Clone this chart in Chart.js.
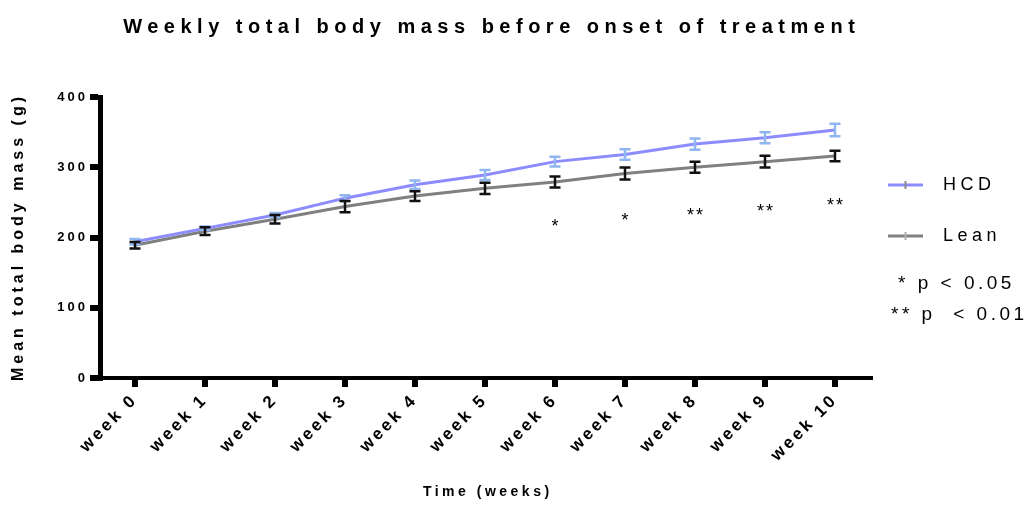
<!DOCTYPE html>
<html>
<head>
<meta charset="utf-8">
<script src="https://cdn.jsdelivr.net/npm/chart.js@4.4.1/dist/chart.umd.min.js"></script>
<style>
  html, body { margin: 0; padding: 0; background: #fff; }
</style>
</head>
<body>
<canvas id="chart" width="1031" height="530"></canvas>
<script>
// data
const weekLabels = ["week 0", "week 1", "week 2", "week 3", "week 4", "week 5",
                    "week 6", "week 7", "week 8", "week 9", "week 10"];
const hcdMean = [194, 213, 232, 256, 275, 289, 308, 318, 333, 342, 353];
const hcdErr = [4, 2.5, 3, 4, 6, 7, 7, 7.5, 8, 8, 9];
const leanMean = [189, 209, 226, 244, 259, 270, 279, 291, 300, 308, 316];
const leanErr = [4.5, 5.5, 6, 8, 7, 8, 8, 8.5, 8, 8.5, 7.5];
const sigMarks = ["", "", "", "", "", "", "*", "*", "**", "**", "**"];
const sigLevel = [null, null, null, null, null, null, 222, 230, 237, 244, 252];
const yTicks = [0, 100, 200, 300, 400];

const FONT = "'Liberation Sans', Arial, sans-serif";
const tickSpacing = { x: 3, y: 3 };

function spacedText(ctx, text, x, y, font, spacing, align, angle) {
  ctx.save();
  ctx.font = font;
  ctx.letterSpacing = spacing + "px";
  ctx.fillStyle = "#000";
  ctx.textAlign = "left";
  ctx.textBaseline = "middle";
  const w = ctx.measureText(text).width - spacing;
  ctx.translate(x, y);
  if (angle) ctx.rotate(angle);
  ctx.fillText(text, align === "center" ? -w / 2 : 0, 0);
  ctx.restore();
}

const errorBars = {
  id: "errorBars",
  afterLayout(chart) {
    // spaced-out tick labels, like the original figure
    Object.values(chart.scales).forEach((s) => {
      if (s._spaced) return;
      const orig = s.drawLabels;
      s.drawLabels = function (area) {
        this.ctx.save();
        this.ctx.letterSpacing = (tickSpacing[this.id] || 0) + "px";
        orig.call(this, area);
        this.ctx.restore();
      };
      s._spaced = true;
    });
  },
  afterDatasetsDraw(chart) {
    const ctx = chart.ctx;
    const xs = chart.scales.x;
    const ys = chart.scales.y;
    chart.data.datasets.forEach((ds) => {
      ctx.save();
      ctx.strokeStyle = ds.errColor;
      ctx.lineWidth = 2.5;
      ds.data.forEach((v, i) => {
        const x = xs.getPixelForValue(i);
        const top = ys.getPixelForValue(v + ds.err[i]);
        const bot = ys.getPixelForValue(v - ds.err[i]);
        ctx.beginPath();
        ctx.moveTo(x, top); ctx.lineTo(x, bot);
        ctx.moveTo(x - 5.5, top); ctx.lineTo(x + 5.5, top);
        ctx.moveTo(x - 5.5, bot); ctx.lineTo(x + 5.5, bot);
        ctx.stroke();
      });
      ctx.restore();
    });
    sigMarks.forEach((m, i) => {
      if (!m) return;
      spacedText(ctx, m, xs.getPixelForValue(i), ys.getPixelForValue(sigLevel[i]) + 5,
        "18px " + FONT, 2, "center");
    });
  },
  afterDraw(chart) {
    const ctx = chart.ctx;
    spacedText(ctx, "Weekly total body mass before onset of treatment", 489, 27,
      "bold 20px " + FONT, 5.5, "center");
    spacedText(ctx, "Mean total body mass (g)", 19, 239,
      "bold 16px " + FONT, 4, "center", -Math.PI / 2);
    spacedText(ctx, "Time (weeks)", 486, 492, "bold 14px " + FONT, 3.5, "center");

    // legend
    chart.data.datasets.forEach((ds, k) => {
      const y = 185 + k * 51;
      ctx.save();
      ctx.strokeStyle = ds.borderColor;
      ctx.lineWidth = 3;
      ctx.beginPath();
      ctx.moveTo(888, y); ctx.lineTo(923, y);
      ctx.stroke();
      ctx.strokeStyle = ds.legendTick;
      ctx.lineWidth = 2;
      ctx.beginPath();
      ctx.moveTo(905.5, y - 4); ctx.lineTo(905.5, y + 4);
      ctx.stroke();
      ctx.restore();
      spacedText(ctx, ds.label, 943, y, "18px " + FONT, 4.5, "left");
    });
    spacedText(ctx, "* p < 0.05", 898, 284, "19px " + FONT, 3.5, "left");
    spacedText(ctx, "** p  < 0.01", 891, 315, "19px " + FONT, 3.5, "left");
  }
};

new Chart(document.getElementById("chart"), {
  type: "line",
  data: {
    labels: weekLabels,
    datasets: [
      {
        label: "HCD",
        data: hcdMean,
        err: hcdErr,
        borderColor: "#8c8cff",
        errColor: "#8fb6ee",
        legendTick: "#8a8a8a",
        borderWidth: 3,
        pointRadius: 0,
        tension: 0,
      },
      {
        label: "Lean",
        data: leanMean,
        err: leanErr,
        borderColor: "#808080",
        errColor: "#111111",
        legendTick: "#b0b0b0",
        borderWidth: 3,
        pointRadius: 0,
        tension: 0,
      }
    ]
  },
  options: {
    responsive: false,
    animation: false,
    layout: { padding: { top: 97, right: 161, bottom: 0, left: 0 } },
    plugins: {
      legend: { display: false },
      title: { display: false },
      tooltip: { enabled: false },
    },
    scales: {
      x: {
        offset: true,
        afterFit(scale) { scale.height = 152; },
        grid: { drawOnChartArea: false, tickLength: 9, lineWidth: 6, color: "#000" },
        border: { width: 4, color: "#000" },
        ticks: {
          color: "#000",
          font: { family: FONT, size: 17, weight: "bold" },
          minRotation: 45,
          maxRotation: 45,
          autoSkip: false,
          padding: 3,
        }
      },
      y: {
        min: 0,
        max: 400,
        afterFit(scale) { scale.width = 100; },
        afterBuildTicks(scale) { scale.ticks = yTicks.map((v) => ({ value: v })); },
        grid: { drawOnChartArea: false, tickLength: 10, lineWidth: 6, color: "#000" },
        border: { width: 5, color: "#000" },
        ticks: {
          color: "#000",
          font: { family: FONT, size: 13, weight: "bold" },
          padding: 2,
        }
      }
    }
  },
  plugins: [errorBars]
});
</script>
</body>
</html>
